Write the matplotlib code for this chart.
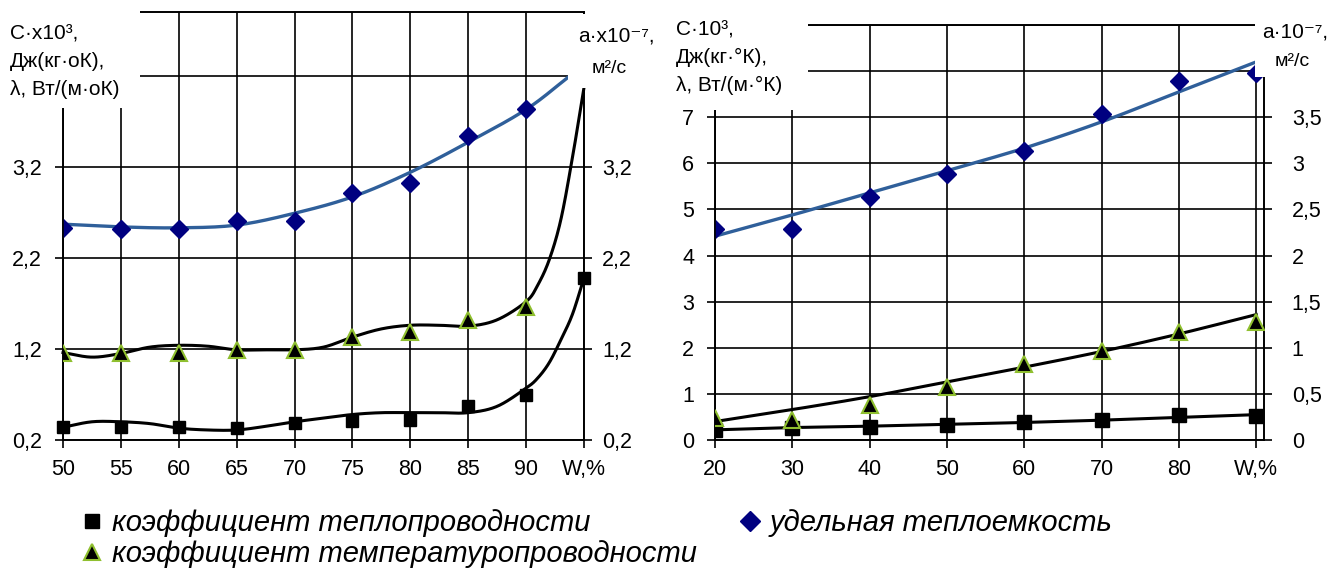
import numpy as np
import matplotlib
matplotlib.use('Agg')
import matplotlib.pyplot as plt
from matplotlib.lines import Line2D
from matplotlib.patches import Rectangle

plt.rcParams['font.family'] = ['Liberation Sans', 'DejaVu Sans']

# ---- left panel: W = 50..95 % ----
w_left = [50, 55, 60, 65, 70, 75, 80, 85, 90]
c_left = [2.53, 2.52, 2.52, 2.60, 2.60, 2.91, 3.02, 3.54, 3.83]
a_left = [1.15, 1.15, 1.16, 1.19, 1.19, 1.33, 1.39, 1.52, 1.66]
w_lam_left = [50, 55, 60, 65, 70, 75, 80, 85, 90, 95]
lam_left = [0.34, 0.34, 0.34, 0.33, 0.39, 0.41, 0.42, 0.57, 0.69, 1.98]

# smoothed curves as they appear on the picture
c_curve_w = [50, 55, 60, 65, 70, 75, 80, 85, 90, 93.7]
c_curve = [2.57, 2.54, 2.53, 2.56, 2.69, 2.87, 3.14, 3.47, 3.83, 4.19]
a_curve_w = [50, 52.5, 55, 57.5, 60, 62.5, 65, 67.5, 70, 72.5, 75, 77.5, 80,
             82.5, 85, 87.5, 90, 91, 92, 93, 94, 95]
a_curve = [1.16, 1.11, 1.15, 1.22, 1.24, 1.23, 1.19, 1.19, 1.19, 1.22, 1.33,
           1.42, 1.46, 1.46, 1.45, 1.52, 1.72, 1.90, 2.18, 2.62, 3.30, 4.07]
lam_curve_w = [50, 52.5, 55, 57.5, 60, 62.5, 65, 67.5, 70, 72.5, 75, 77.5, 80,
               82.5, 85, 87.5, 90, 91, 92, 93, 94, 95]
lam_curve = [0.34, 0.40, 0.40, 0.38, 0.33, 0.31, 0.31, 0.35, 0.40, 0.44, 0.48,
             0.50, 0.50, 0.50, 0.50, 0.57, 0.77, 0.88, 1.05, 1.30, 1.58, 1.98]

left_yticks = [0.2, 1.2, 2.2, 3.2, 4.2]
left_ylabels = ['0,2', '1,2', '2,2', '3,2', '']
left_xticks = [50, 55, 60, 65, 70, 75, 80, 85, 90, 95]
left_xlabels = ['50', '55', '60', '65', '70', '75', '80', '85', '90', 'W,%']

# ---- right panel: W = 20..90 % ----
w_right = [20, 30, 40, 50, 60, 70, 80, 90]
c_right = [4.57, 4.57, 5.26, 5.76, 6.26, 7.07, 7.78, 7.95]
c_right_line = [4.42, 4.88, 5.36, 5.84, 6.33, 6.90, 7.55, 8.20]
a_right = [0.24, 0.22, 0.38, 0.58, 0.82, 0.96, 1.17, 1.28]
a_right_line = [0.20, 0.33, 0.47, 0.63, 0.79, 0.96, 1.15, 1.36]
lam_right = [0.22, 0.26, 0.28, 0.33, 0.39, 0.43, 0.54, 0.51]
lam_right_line = [0.22, 0.27, 0.30, 0.34, 0.38, 0.43, 0.49, 0.55]

right_xlabels = ['20', '30', '40', '50', '60', '70', '80', 'W,%']
right_yticks = list(range(0, 10))
right_ylabels = ['0', '1', '2', '3', '4', '5', '6', '7', '', '']
right_y2ticks = [0, 0.5, 1, 1.5, 2, 2.5, 3, 3.5, 4, 4.5]
right_y2labels = ['0', '0,5', '1', '1,5', '2', '2,5', '3', '3,5', '', '']

legend_labels = ['коэффициент теплопроводности',
                 'коэффициент температуропроводности',
                 'удельная теплоемкость']

BLUE_LINE = '#2f5f9a'
NAVY = '#000080'
GREEN = '#8fbf2f'

W, H = 1332, 572


def fx(x):
    return x / W


def fy(y):
    return 1 - y / H


def smooth(x, y, n=24):
    # Catmull-Rom path through the points (like a spreadsheet smoothed line)
    x = np.asarray(x, float)
    y = np.asarray(y, float)
    px = np.concatenate([[2 * x[0] - x[1]], x, [2 * x[-1] - x[-2]]])
    py = np.concatenate([[2 * y[0] - y[1]], y, [2 * y[-1] - y[-2]]])
    t = np.linspace(0, 1, n, endpoint=False)
    xs, ys = [], []
    for i in range(1, len(px) - 2):
        for p, out in ((px, xs), (py, ys)):
            p0, p1, p2, p3 = p[i - 1], p[i], p[i + 1], p[i + 2]
            out.append(0.5 * (2 * p1 + (-p0 + p2) * t
                              + (2 * p0 - 5 * p1 + 4 * p2 - p3) * t ** 2
                              + (-p0 + 3 * p1 - 3 * p2 + p3) * t ** 3))
    return np.append(np.concatenate(xs), x[-1]), np.append(np.concatenate(ys), y[-1])


def style(ax, axr):
    for a in (ax, axr):
        for s in a.spines.values():
            s.set_linewidth(1.2)
            s.set_color('black')
        a.tick_params(direction='out', length=6, width=1.2, labelsize=15.5,
                      colors='black')
    ax.grid(True, color='black', linewidth=1.2)
    ax.set_axisbelow(True)
    ax.tick_params(axis='y', pad=9)
    ax.tick_params(axis='x', pad=8)
    axr.tick_params(axis='y', pad=7)


fig = plt.figure(figsize=(13.32, 5.72), dpi=100)

# left panel
ax1 = fig.add_axes([fx(63), fy(440), fx(584) - fx(63), fy(12) - fy(440)])
ax1r = ax1.twinx()
ax1.set_xlim(50, 95)
ax1.set_ylim(0.2, 4.9)
ax1r.set_ylim(0.2, 4.9)
ax1.set_xticks(left_xticks)
ax1.set_xticklabels(left_xlabels)
ax1.set_yticks(left_yticks)
ax1.set_yticklabels(left_ylabels)
ax1r.set_yticks(left_yticks)
ax1r.set_yticklabels(left_ylabels)
style(ax1, ax1r)

ax1.plot(*smooth(c_curve_w, c_curve), color=BLUE_LINE, lw=2.4, zorder=3)
ax1.plot(*smooth(lam_curve_w, lam_curve), color='black', lw=2.2, zorder=3)
ax1r.plot(*smooth(a_curve_w, a_curve), color='black', lw=2.2, zorder=3,
          clip_on=False)
ax1.plot(w_left, c_left, 'D', color=NAVY, ms=9, zorder=4)
ax1.plot(w_lam_left, lam_left, 's', color='black', ms=8, zorder=4,
         clip_on=False)
ax1r.plot(w_left, a_left, '^', mfc='black', mec=GREEN, mew=1.5, ms=11,
          ls='none', zorder=4)

# right panel
ax2 = fig.add_axes([fx(715), fy(440), fx(1264) - fx(715), fy(25) - fy(440)])
ax2r = ax2.twinx()
ax2.set_xlim(20, 91)
ax2.set_ylim(0, 9)
ax2r.set_ylim(0, 4.5)
ax2.set_xticks(w_right)
ax2.set_xticklabels(right_xlabels)
ax2.set_yticks(right_yticks)
ax2.set_yticklabels(right_ylabels)
ax2r.set_yticks(right_y2ticks)
ax2r.set_yticklabels(right_y2labels)
style(ax2, ax2r)
ax2r.tick_params(axis='y', pad=14)

ax2.plot(*smooth(w_right, c_right_line), color=BLUE_LINE, lw=2.4, zorder=3)
ax2.plot(w_right, lam_right_line, color='black', lw=2.2, zorder=3)
ax2r.plot(*smooth(w_right, a_right_line), color='black', lw=2.2, zorder=3)
ax2.plot(w_right, c_right, 'D', color=NAVY, ms=9, zorder=4)
ax2.plot(w_right, lam_right, 's', color='black', ms=10, zorder=4)
ax2r.plot(w_right, a_right, '^', mfc='black', mec=GREEN, mew=1.5, ms=11,
          ls='none', zorder=4)

# white label boxes that cover the corners of the grids
for x0, y0, x1, y1 in [(0, 0, 140, 108), (568, 14, 668, 88),
                       (660, 0, 808, 110), (1255, 0, 1332, 77)]:
    fig.add_artist(Rectangle((fx(x0), fy(y1)), fx(x1) - fx(x0),
                             fy(y0) - fy(y1), transform=fig.transFigure,
                             facecolor='white', edgecolor='none', zorder=5))

lab = dict(fontsize=15, va='top', ha='left', zorder=6, linespacing=1.6)
fig.text(fx(10), fy(24), 'C·x10³,\nДж(кг·оК),\nλ, Вт/(м·оК)', **lab)
fig.text(fx(578), fy(27), 'a·x10⁻⁷,', **lab)
fig.text(fx(592), fy(60), 'м²/с', **{**lab, 'fontsize': 14})
fig.text(fx(676), fy(20), 'C·10³,\nДж(кг·°К),\nλ, Вт/(м·°К)', **lab)
fig.text(fx(1262), fy(22), 'a·10⁻⁷,', **lab)
fig.text(fx(1275), fy(53), 'м²/с', **{**lab, 'fontsize': 14})

handles = [
    Line2D([], [], ls='none', marker='s', color='black', ms=10),
    Line2D([], [], ls='none', marker='^', mfc='black', mec=GREEN, mew=1.5, ms=12),
    Line2D([], [], ls='none', marker='D', color=NAVY, ms=10),
]
fig.legend(handles, legend_labels, loc='upper left',
           bbox_to_anchor=(fx(80), fy(509)), ncol=2, frameon=False,
           prop={'style': 'italic', 'size': 21}, handlelength=0.8,
           handletextpad=0.3, labelspacing=0.1, columnspacing=1.4,
           borderaxespad=0, borderpad=0)

fig.savefig('out.png', dpi=100)
